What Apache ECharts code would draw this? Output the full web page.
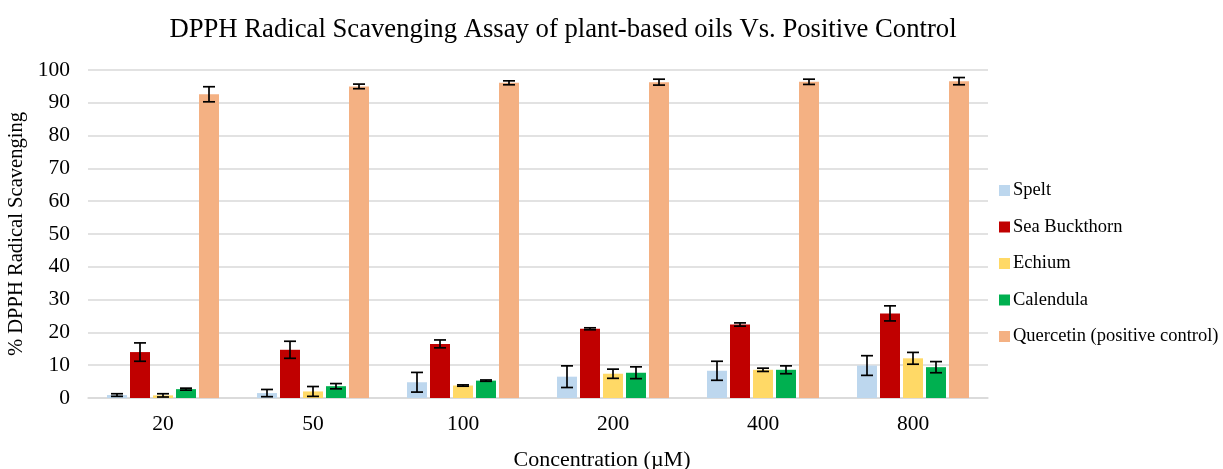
<!DOCTYPE html>
<html>
<head>
<meta charset="utf-8">
<script src="https://cdn.jsdelivr.net/npm/echarts@6/dist/echarts.min.js"></script>
<style>
  html, body { margin: 0; padding: 0; background: #fff; }
  #chart { width: 1223px; height: 469px; }
</style>
</head>
<body>
<div id="chart"></div>
<script>
// Concentrations (µM)
const categories = ['20', '50', '100', '200', '400', '800'];

const seriesNames = ['Spelt', 'Sea Buckthorn', 'Echium', 'Calendula', 'Quercetin (positive control)'];

// Mean % DPPH radical scavenging
const spelt        = [0.9, 1.5, 4.8, 6.5, 8.3, 9.9];
const seaBuckthorn = [14.0, 14.7, 16.5, 21.1, 22.4, 25.8];
const echium       = [0.8, 2.0, 3.8, 7.4, 8.6, 12.1];
const calendula    = [2.7, 3.6, 5.3, 7.7, 8.6, 9.4];
const quercetin    = [92.6, 95.0, 96.1, 96.3, 96.4, 96.6];

// Standard deviations (error bars)
const speltErr        = [0.4, 1.1, 3.0, 3.3, 2.9, 3.0];
const seaBuckthornErr = [2.8, 2.6, 1.2, 0.3, 0.5, 2.3];
const echiumErr       = [0.5, 1.5, 0.2, 1.4, 0.5, 1.8];
const calendulaErr    = [0.3, 0.8, 0.2, 1.8, 1.2, 1.7];
const quercetinErr    = [2.3, 0.7, 0.6, 0.9, 0.8, 1.1];

const values = [spelt, seaBuckthorn, echium, calendula, quercetin];
const errors = [speltErr, seaBuckthornErr, echiumErr, calendulaErr, quercetinErr];
const colors = ['#bdd7ee', '#c00000', '#ffd966', '#00b050', '#f4b183'];

const BAR_W = 20;
const BAR_GAP = 3;
const CAP = 12;
const FONT = '"Liberation Serif", "Times New Roman", serif';

const chart = echarts.init(document.getElementById('chart'), null, { renderer: 'canvas' });

const barSeries = seriesNames.map((name, i) => ({
  name,
  type: 'bar',
  data: values[i],
  barWidth: BAR_W,
  barGap: (BAR_GAP / BAR_W * 100) + '%',
  itemStyle: { color: colors[i] },
  z: 2
}));

// Error bars drawn over each bar: vertical whisker with caps at mean ± SD
const errSeries = seriesNames.map((name, i) => ({
  type: 'custom',
  name: name + ' err',
  z: 5,
  silent: true,
  data: categories.map((c, k) => [k, values[i][k] - errors[i][k], values[i][k] + errors[i][k]]),
  renderItem: function (params, api) {
    const k = api.value(0);
    const lo = api.coord([k, api.value(1)]);
    const hi = api.coord([k, api.value(2)]);
    const off = (i - (seriesNames.length - 1) / 2) * (BAR_W + BAR_GAP);
    const x = lo[0] + off;
    const style = { stroke: '#000', lineWidth: 1.7 };
    return {
      type: 'group',
      children: [
        { type: 'line', shape: { x1: x, y1: lo[1], x2: x, y2: hi[1] }, style },
        { type: 'line', shape: { x1: x - CAP / 2, y1: hi[1], x2: x + CAP / 2, y2: hi[1] }, style },
        { type: 'line', shape: { x1: x - CAP / 2, y1: lo[1], x2: x + CAP / 2, y2: lo[1] }, style }
      ]
    };
  }
}));

chart.setOption({
  animation: false,
  backgroundColor: '#fff',
  textStyle: { fontFamily: FONT },
  title: [
    {
      text: 'DPPH Radical Scavenging Assay of plant-based oils Vs. Positive Control',
      left: 558,
      textAlign: 'center',
      top: 11,
      textStyle: { fontFamily: FONT, fontSize: 26.7, fontWeight: 'normal', color: '#000' }
    },
    {
      // x-axis title
      text: 'Concentration (\u00b5M)',
      left: 602,
      textAlign: 'center',
      top: 449,
      padding: 0,
      textStyle: { fontFamily: FONT, fontSize: 22, fontWeight: 'normal', color: '#000' }
    }
  ],
  legend: {
    data: seriesNames,
    orient: 'vertical',
    left: 994,
    top: 176,
    itemWidth: 11,
    itemHeight: 11,
    itemGap: 17.5,
    icon: 'rect',
    textStyle: { fontFamily: FONT, fontSize: 18.5, color: '#000', padding: [0, 0, 0, -2] }
  },
  grid: { left: 88, right: 235, top: 70, bottom: 71, containLabel: false, outerBoundsMode: 'none' },
  xAxis: {
    type: 'category',
    data: categories,
    axisLine: { lineStyle: { color: '#d9d9d9', width: 1.5 } },
    axisTick: { show: false },
    axisLabel: { fontFamily: FONT, fontSize: 21.5, color: '#000', margin: 15 }
  },
  yAxis: {
    type: 'value',
    min: 0,
    max: 100,
    interval: 10,
    name: '% DPPH Radical Scavenging',
    nameLocation: 'middle',
    nameGap: 53,
    nameTextStyle: { fontFamily: FONT, fontSize: 20.6, color: '#000' },
    axisLine: { show: false },
    axisTick: { show: false },
    axisLabel: { fontFamily: FONT, fontSize: 21.5, color: '#000', margin: 18 },
    splitLine: { lineStyle: { color: '#d9d9d9', width: 1.5 } }
  },
  series: barSeries.concat(errSeries)
});
</script>
</body>
</html>
